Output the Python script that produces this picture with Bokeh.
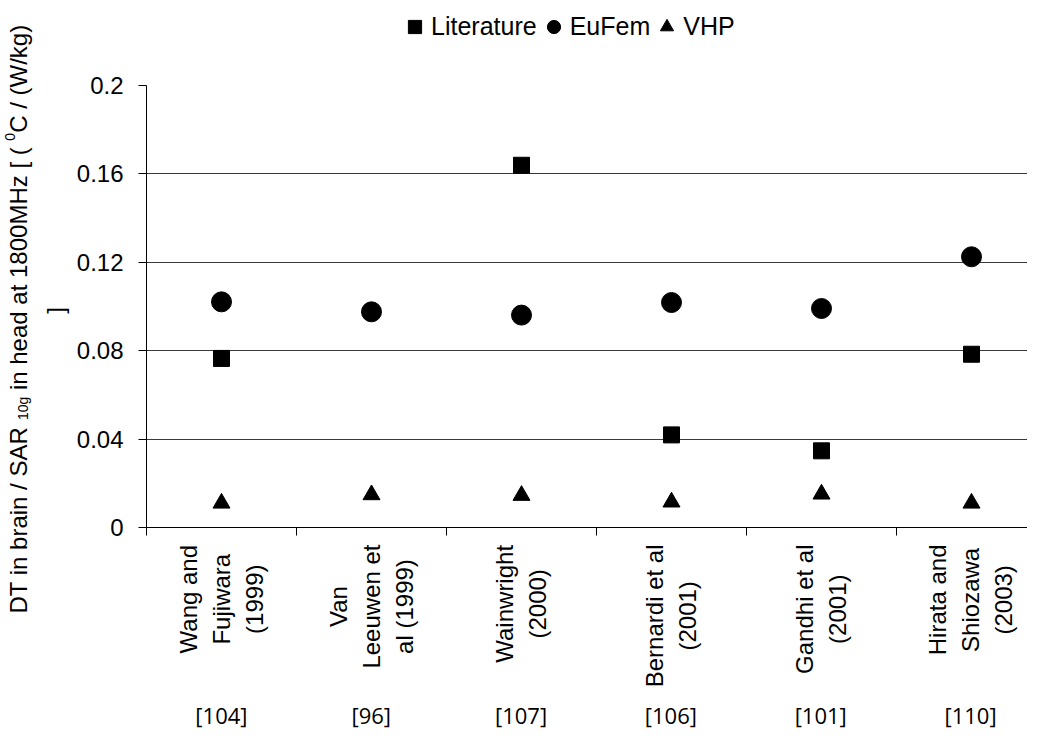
import math
from bokeh.plotting import figure
from bokeh.layouts import row, column
from bokeh.models import Legend, LegendItem, FixedTicker, ColumnDataSource, CustomJSTickFormatter
from bokeh.core.properties import value
from bokeh.embed import file_html
from bokeh.resources import INLINE

# ---------------- data ----------------
categories = ["Wang and\nFujiwara\n(1999)", "Van\nLeeuwen et\nal (1999)", "Wainwright\n(2000)",
              "Bernardi et al\n(2001)", "Gandhi et al\n(2001)", "Hirata and\nShiozawa\n(2003)"]
refs = ["[104]", "[96]", "[107]", "[106]", "[101]", "[110]"]
series_names = ["Literature", "EuFem", "VHP"]
literature = [0.0765, float("nan"), 0.1639, 0.0419, 0.0347, 0.0784]
eufem = [0.1021, 0.0976, 0.0961, 0.1018, 0.0991, 0.1225]
vhp = [0.0110, 0.0148, 0.0145, 0.0115, 0.0151, 0.0110]
y_ticks = [0.0, 0.04, 0.08, 0.12, 0.16, 0.2]
y_tick_labels = ["0", "0.04", "0.08", "0.12", "0.16", "0.2"]
y_title_parts = [("DT in brain / SAR ", "n"), ("10g", "sub"), (" in head at 1800MHz [ ( ", "n"),
                 ("0", "sup"), ("C / (W/kg)", "n")]
y_title_line2 = "]"

FONT = "Liberation Sans"
n = len(categories)
xc = [i + 0.5 for i in range(n)]
bounds = list(range(n + 1))

# ---------------- layout constants (pixels) ----------------
H = 737            # total height
LW = 73            # strip carrying the y title
YB = 72            # room for the y tick labels
FW, FH = 881, 442  # plot frame
PX = 150.0         # pixels per category
HT = 70            # strip above (legend)
PT, PB = 15, 14    # main figure borders above / below the frame
HB = H - HT - PT - FH - PB   # strip below (category names, references)
LINE_STEP = 33.0 / PX        # spacing of the rotated text lines, in category units

AW = {" ": 278, "D": 722, "T": 611, "i": 222, "n": 556, "b": 556, "r": 333, "a": 556, "/": 278,
      "S": 667, "A": 667, "R": 722, "1": 556, "0": 556, "g": 556, "h": 556, "e": 556, "d": 556,
      "t": 278, "8": 556, "M": 833, "H": 722, "z": 500, "[": 278, "(": 333, "C": 722, "W": 944,
      "k": 500, ")": 333, "]": 278, "F": 611, "u": 556, "j": 222, "w": 722, "9": 556, "V": 667,
      "L": 556, "l": 222, "2": 556, "B": 667, "G": 778, "o": 556, "s": 500, "3": 556}


def tw(s, fs):
    return sum(AW.get(ch, 556) for ch in s) * fs / 1000.0


def blank_fig(w, h, left=0, x_range=(0, 1), y_range=(0, 1)):
    f = figure(width=w, height=h, min_border_left=left, min_border_right=0, min_border_top=0,
               min_border_bottom=0, x_range=x_range, y_range=y_range,
               x_axis_location=None, y_axis_location=None, title=None,
               output_backend="svg", toolbar_location=None,
               background_fill_color="white", border_fill_color="white")
    f.outline_line_color = None
    f.xgrid.visible = False
    f.ygrid.visible = False
    return f


# ---------------- main chart ----------------
p = figure(frame_width=FW, frame_height=FH, min_border_left=YB, min_border_right=0,
           min_border_top=PT, min_border_bottom=PB, title=None,
           x_range=(0, FW / PX), y_range=(0, 0.2),
           output_backend="svg", toolbar_location=None,
           background_fill_color="white", border_fill_color="white")
p.outline_line_color = None

p.xaxis.ticker = FixedTicker(ticks=bounds, minor_ticks=[])
p.xaxis.formatter = CustomJSTickFormatter(code="return ''")
p.xaxis.major_tick_out = 8
p.xaxis.major_tick_in = 0
p.xaxis.minor_tick_out = 0
p.xaxis.minor_tick_in = 0
p.xaxis.major_tick_line_color = "black"
p.xaxis.axis_line_color = "black"
p.xaxis.major_label_standoff = 0
p.xaxis.major_label_text_font_size = "1px"

p.yaxis.ticker = FixedTicker(ticks=y_ticks, minor_ticks=[])
p.yaxis.major_label_overrides = dict(zip(y_ticks, y_tick_labels))
p.yaxis.major_tick_out = 8
p.yaxis.major_tick_in = 0
p.yaxis.minor_tick_out = 0
p.yaxis.minor_tick_in = 0
p.yaxis.axis_line_color = "black"
p.yaxis.major_tick_line_color = "black"
p.yaxis.major_label_standoff = 15
p.yaxis.major_label_text_font = FONT
p.yaxis.major_label_text_font_size = "24px"
p.yaxis.major_label_text_color = "black"

p.xgrid.grid_line_color = None
p.ygrid.grid_line_color = "#3a3a3a"
p.ygrid.grid_line_width = 1

src = ColumnDataSource(dict(x=xc, lit=literature, euf=eufem, vhp=vhp))
p.scatter("x", "lit", source=src, marker="square", size=16, color="black")
p.scatter("x", "euf", source=src, marker="circle", size=20, color="black")
p.scatter("x", "vhp", source=src, marker="triangle", size=17, color="black")

# ---------------- legend strip ----------------
top = blank_fig(YB + FW, HT, left=YB)
markers = ["square", "circle", "triangle"]
nan = float("nan")
leg_r = [top.scatter(x=[nan], y=[nan], marker=m, color="black") for m in markers]
legend = Legend(items=[LegendItem(label=s, renderers=[r]) for s, r in zip(series_names, leg_r)],
                orientation="horizontal", location=(252, 27),
                glyph_width=33, glyph_height=33, label_standoff=-10, spacing=-13,
                padding=0, margin=0, border_line_color=None, background_fill_alpha=0,
                label_text_font=FONT, label_text_font_size="25px", label_text_color="black")
top.add_layout(legend)

# ---------------- category names and references strip ----------------
bot = blank_fig(YB + FW, HB, left=YB, x_range=p.x_range, y_range=(0, HB))
strip_bottom = 8 + H            # page y of the strip's lower edge
label_top = 552                 # page y where the longest line of each name ends
lx, ly, lt = [], [], []
for x, c in zip(xc, categories):
    lines = c.split("\n")
    m = len(lines)
    yc = strip_bottom - (label_top + max(tw(ln, 24) for ln in lines) / 2.0)
    for k, ln in enumerate(lines):
        lx.append(x + (k - (m - 1) / 2.0) * LINE_STEP)
        ly.append(yc)
        lt.append(ln)
bot.text(x=lx, y=ly, text=lt, angle=math.pi / 2, text_align="center",
         text_baseline="middle", text_font=value(FONT), text_font_size="24px", text_color="black")
bot.text(x=xc, y=[strip_bottom - 722] * n, text=refs, text_align="center", text_baseline="middle",
         text_font=value("Open Sans"), text_font_size="22px", text_color="black")

# ---------------- y title strip (pixel coordinates, y up) ----------------
t = blank_fig(LW, H, x_range=(0, LW), y_range=(0, H))
style = {"n": (24, 0.0), "sub": (14, 4.0), "sup": (14, -9.0)}
base_x, pos = 18.0, 124.0
for txt, kind in y_title_parts:
    fs, dx = style[kind]
    lead = len(txt) - len(txt.lstrip(" "))
    t.text(x=[base_x + dx], y=[pos + tw(" " * lead, fs)], text=[txt.strip(" ")],
           angle=math.pi / 2, text_align="left", text_baseline="alphabetic",
           text_font=value(FONT), text_font_size=f"{fs}px", text_color="black")
    pos += tw(txt, fs)
t.text(x=[55], y=[427], text=[y_title_line2], angle=math.pi / 2, text_align="center",
       text_baseline="middle", text_font=value(FONT), text_font_size="24px", text_color="black")

layout = row(t, column(top, p, bot, spacing=0), spacing=0)
open("out.html", "w").write(file_html(layout, INLINE))
